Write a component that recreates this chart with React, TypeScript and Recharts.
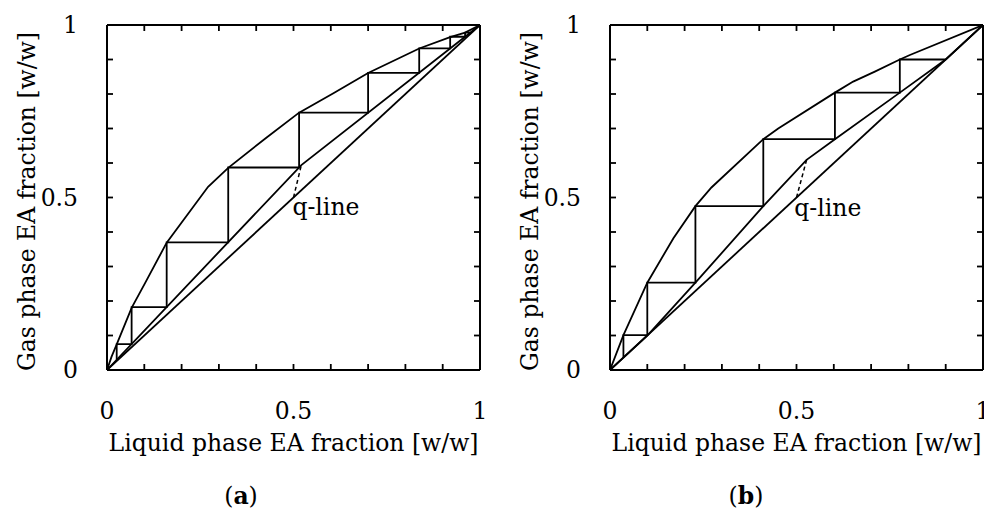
import React from 'react';
import { ScatterChart, Scatter, XAxis, YAxis } from 'recharts';

const tickValues = [0, 0.1, 0.2, 0.3, 0.4, 0.5, 0.6, 0.7, 0.8, 0.9, 1];
const labeledTicks = [0, 0.5, 1];
const xTitle = 'Liquid phase EA fraction [w/w]';
const yTitle = 'Gas phase EA fraction [w/w]';
const qText = 'q-line';

const diagonal = [{ x: 0, y: 0 }, { x: 1, y: 1 }];

// Panel (a)
const eqA = [
  { x: 0, y: 0 }, { x: 0.012, y: 0.038 }, { x: 0.026, y: 0.074 }, { x: 0.066, y: 0.18 }, { x: 0.102, y: 0.252 },
  { x: 0.16, y: 0.369 }, { x: 0.271, y: 0.531 }, { x: 0.325, y: 0.586 }, { x: 0.428, y: 0.674 },
  { x: 0.515, y: 0.746 }, { x: 0.607, y: 0.802 }, { x: 0.7, y: 0.861 }, { x: 0.837, y: 0.932 },
  { x: 0.92, y: 0.965 }, { x: 0.96, y: 0.978 }, { x: 1, y: 1 },
];
const opA = [{ x: 0, y: 0 }, { x: 0.521, y: 0.594 }, { x: 1, y: 1 }];
const stepsA = [
  { x: 0.974, y: 0.978 }, { x: 0.96, y: 0.978 }, { x: 0.96, y: 0.966 }, { x: 0.92, y: 0.966 },
  { x: 0.92, y: 0.932 }, { x: 0.837, y: 0.932 }, { x: 0.837, y: 0.861 }, { x: 0.7, y: 0.861 },
  { x: 0.7, y: 0.746 }, { x: 0.515, y: 0.746 }, { x: 0.515, y: 0.587 }, { x: 0.325, y: 0.587 },
  { x: 0.325, y: 0.37 }, { x: 0.16, y: 0.37 }, { x: 0.16, y: 0.182 }, { x: 0.066, y: 0.182 },
  { x: 0.066, y: 0.075 }, { x: 0.026, y: 0.075 }, { x: 0.026, y: 0.03 },
];
const qA = [{ x: 0.5, y: 0.5 }, { x: 0.521, y: 0.594 }];
const qLabelA = [{ x: 0.497, y: 0.449 }];

// Panel (b)
const eqB = [
  { x: 0, y: 0 }, { x: 0.036, y: 0.101 }, { x: 0.1, y: 0.253 }, { x: 0.17, y: 0.382 },
  { x: 0.229, y: 0.475 }, { x: 0.272, y: 0.529 }, { x: 0.411, y: 0.669 }, { x: 0.451, y: 0.7 },
  { x: 0.603, y: 0.804 }, { x: 0.652, y: 0.836 }, { x: 0.71, y: 0.865 }, { x: 0.777, y: 0.9 },
  { x: 0.804, y: 0.913 }, { x: 1, y: 1 },
];
const opB = [
  { x: 0, y: 0 }, { x: 0.1, y: 0.1 }, { x: 0.229, y: 0.253 }, { x: 0.411, y: 0.475 },
  { x: 0.527, y: 0.609 }, { x: 0.603, y: 0.669 }, { x: 0.777, y: 0.804 }, { x: 0.9, y: 0.9 },
  { x: 1, y: 1 },
];
const stepsB = [
  { x: 0.9, y: 0.9 }, { x: 0.777, y: 0.9 }, { x: 0.777, y: 0.804 }, { x: 0.603, y: 0.804 },
  { x: 0.603, y: 0.669 }, { x: 0.411, y: 0.669 }, { x: 0.411, y: 0.475 }, { x: 0.229, y: 0.475 },
  { x: 0.229, y: 0.253 }, { x: 0.1, y: 0.253 }, { x: 0.1, y: 0.101 }, { x: 0.036, y: 0.101 },
  { x: 0.036, y: 0.036 },
];
const qB = [{ x: 0.5, y: 0.5 }, { x: 0.527, y: 0.609 }];
const qLabelB = [{ x: 0.494, y: 0.445 }];

const FONT = '"DejaVu Serif", "Liberation Serif", serif';
const FS = 23.5;
const fmt = (v: number) => (labeledTicks.includes(v) ? String(v) : '');
const noShape = () => <g />;

type PanelProps = {
  left: number;
  yAxisWidth: number;
  marginRight: number;
  eq: { x: number; y: number }[];
  op: { x: number; y: number }[];
  steps: { x: number; y: number }[];
  q: { x: number; y: number }[];
  qLabel: { x: number; y: number }[];
  tag: string;
  tagX: number;
};

function Panel({ left, yAxisWidth, marginRight, eq, op, steps, q, qLabel, tag, tagX }: PanelProps) {
  const lineStyle = { stroke: '#000', strokeWidth: 1.8 };
  const axisStyle = { stroke: '#000', strokeWidth: 2 };
  const tickLineStyle = { stroke: '#000', strokeWidth: 1.8 };
  const tickText = { fill: '#000', fontSize: FS, fontFamily: FONT };
  return (
    <div style={{ position: 'absolute', left, top: 0 }}>
      <ScatterChart width={492} height={516} margin={{ top: 24, right: marginRight, bottom: 46, left: 0 }}>
        <XAxis
          xAxisId="b"
          type="number"
          dataKey="x"
          domain={[0, 1]}
          allowDataOverflow
          ticks={tickValues}
          tickFormatter={fmt}
          orientation="bottom"
          height={100}
          tickSize={-6}
          tickMargin={38}
          axisLine={axisStyle}
          tickLine={tickLineStyle}
          tick={tickText}
          interval={0}
          label={{
            content: (props: any) => {
              const vb = props.viewBox || { x: yAxisWidth, y: 370, width: 373, height: 100 };
              return (
                <g>
                  <text x={vb.x + vb.width / 2} y={vb.y + 81} textAnchor="middle" fill="#000" fontSize={FS} fontFamily={FONT}>
                    {xTitle}
                  </text>
                  <text x={tagX} y={504} textAnchor="middle" fill="#000" fontSize={FS} fontFamily={FONT}>
                    <tspan>(</tspan>
                    <tspan fontWeight="bold">{tag}</tspan>
                    <tspan>)</tspan>
                  </text>
                </g>
              );
            },
          }}
        />
        <XAxis
          xAxisId="t"
          type="number"
          dataKey="x"
          domain={[0, 1]}
          allowDataOverflow
          ticks={tickValues}
          tickFormatter={() => ''}
          orientation="top"
          height={1}
          tickSize={-6}
          axisLine={axisStyle}
          tickLine={tickLineStyle}
          interval={0}
        />
        <YAxis
          yAxisId="l"
          type="number"
          dataKey="y"
          domain={[0, 1]}
          allowDataOverflow
          ticks={tickValues}
          tickFormatter={fmt}
          orientation="left"
          width={yAxisWidth}
          tickSize={-6}
          tickMargin={35}
          axisLine={axisStyle}
          tickLine={tickLineStyle}
          tick={tickText}
          interval={0}
          label={{
            content: (props: any) => {
              const vb = props.viewBox || { x: 0, y: 25, width: yAxisWidth, height: 345 };
              const cx = vb.x + vb.width - 72;
              const cy = vb.y + vb.height / 2 + 4;
              return (
                <text
                  x={cx}
                  y={cy}
                  transform={`rotate(-90, ${cx}, ${cy})`}
                  textAnchor="middle"
                  fill="#000"
                  fontSize={FS}
                  fontFamily={FONT}
                >
                  {yTitle}
                </text>
              );
            },
          }}
        />
        <YAxis
          yAxisId="r"
          type="number"
          dataKey="y"
          domain={[0, 1]}
          allowDataOverflow
          ticks={tickValues}
          tickFormatter={() => ''}
          orientation="right"
          width={1}
          tickSize={-6}
          axisLine={axisStyle}
          tickLine={tickLineStyle}
          interval={0}
        />
        <Scatter xAxisId="t" yAxisId="r" data={diagonal} fill="#000" line={lineStyle} shape={noShape} isAnimationActive={false} />
        <Scatter xAxisId="b" yAxisId="l" data={eq} fill="#000" line={lineStyle} shape={noShape} isAnimationActive={false} />
        <Scatter xAxisId="b" yAxisId="l" data={op} fill="#000" line={lineStyle} shape={noShape} isAnimationActive={false} />
        <Scatter xAxisId="b" yAxisId="l" data={steps} fill="#000" line={lineStyle} shape={noShape} isAnimationActive={false} />
        <Scatter
          xAxisId="b"
          yAxisId="l"
          data={q}
          fill="#000"
          line={{ stroke: '#000', strokeWidth: 1.5, strokeDasharray: '4 3' }}
          shape={noShape}
          isAnimationActive={false}
        />
        <Scatter
          xAxisId="b"
          yAxisId="l"
          data={qLabel}
          fill="#000"
          isAnimationActive={false}
          shape={(p: any) => (
            <text x={p.cx} y={p.cy} textAnchor="start" fill="#000" fontSize={FS} fontFamily={FONT}>
              {qText}
            </text>
          )}
        />
      </ScatterChart>
    </div>
  );
}

export default function App() {
  return (
    <div style={{ position: 'absolute', left: 0, top: 0, width: 984, height: 516, overflow: 'hidden', background: '#fff' }}>
      <Panel left={0} yAxisWidth={107} marginRight={11} eq={eqA} op={opA} steps={stepsA} q={qA} qLabel={qLabelA} tag="a" tagX={241} />
      <Panel left={492} yAxisWidth={118} marginRight={0} eq={eqB} op={opB} steps={stepsB} q={qB} qLabel={qLabelB} tag="b" tagX={254} />
    </div>
  );
}
